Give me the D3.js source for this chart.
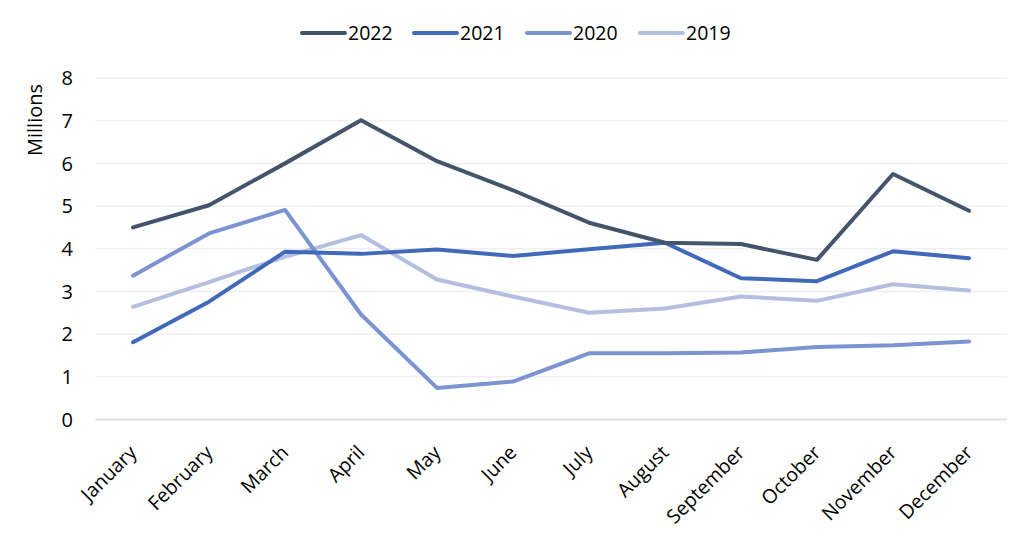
<!DOCTYPE html>
<html><head><meta charset="utf-8">
<script src="https://cdn.jsdelivr.net/npm/d3@7"></script>
<style>body{margin:0;background:#fff}svg{display:block}text{font-family:"Open Sans","Noto Sans",sans-serif;fill:#000}</style>
</head><body><svg id="c" width="1029" height="544"></svg>
<script>
const months = ["January","February","March","April","May","June","July","August","September","October","November","December"];
const seriesNames = ["2022","2021","2020","2019"];
const v2022 = [4.50,5.02,6.00,7.01,6.05,5.37,4.61,4.14,4.11,3.74,5.75,4.89];
const v2021 = [1.81,2.76,3.93,3.88,3.98,3.83,3.99,4.14,3.31,3.24,3.94,3.78];
const v2020 = [3.37,4.36,4.91,2.46,0.74,0.89,1.55,1.55,1.57,1.70,1.74,1.83];
const v2019 = [2.64,3.22,3.81,4.32,3.28,2.88,2.50,2.60,2.88,2.78,3.17,3.02];
const yTicks = [0,1,2,3,4,5,6,7,8];
const colors = ["#44546A","#4169BA","#7B93D0","#B4BFE0"];
const values = [v2022,v2021,v2020,v2019];

const svg = d3.select("#c");
const L = 95, R = 1007, T = 78, B = 419.5;
const x = d3.scaleBand().domain(months).range([L,R]);
const y = d3.scaleLinear().domain([0,8]).range([B,T]);

svg.append("g").selectAll("line").data(yTicks).join("line")
  .attr("x1",L).attr("x2",R).attr("y1",d=>y(d)).attr("y2",d=>y(d))
  .attr("stroke",d=>d===0?"#d9d9d9":"#efefef").attr("stroke-width",1.5);

svg.append("g").selectAll("text").data(yTicks).join("text")
  .attr("x",73).attr("y",d=>y(d)).attr("dy","0.36em").attr("text-anchor","end")
  .style("font-size","20px").text(d=>d);

svg.append("text").attr("transform","translate(42,120) rotate(-90)")
  .attr("text-anchor","middle").style("font-size","20px").text("Millions");

svg.append("g").selectAll("text").data(months).join("text")
  .attr("transform",d=>`translate(${x(d)+x.bandwidth()/2},${449}) rotate(-45)`)
  .attr("text-anchor","end").attr("dy","0.35em").style("font-size","19.5px").text(d=>d);

const line = d3.line().x((d,i)=>x(months[i])+x.bandwidth()/2).y(d=>y(d));
svg.append("g").selectAll("path").data(values.slice().reverse()).join("path")
  .attr("d",d=>line(d)).attr("fill","none")
  .attr("stroke",(d,i)=>colors[3-i]).attr("stroke-width",4)
  .attr("stroke-linecap","round").attr("stroke-linejoin","round");

const legX = [302,414,527,640];
const lg = svg.append("g").selectAll("g").data(seriesNames).join("g")
  .attr("transform",(d,i)=>`translate(${legX[i]},33)`);
lg.append("line").attr("x1",0).attr("x2",43).attr("y1",0).attr("y2",0)
  .attr("stroke",(d,i)=>colors[i]).attr("stroke-width",4).attr("stroke-linecap","round");
lg.append("text").attr("x",46).attr("dy","0.36em").style("font-size","19.5px").text(d=>d);
</script></body></html>
